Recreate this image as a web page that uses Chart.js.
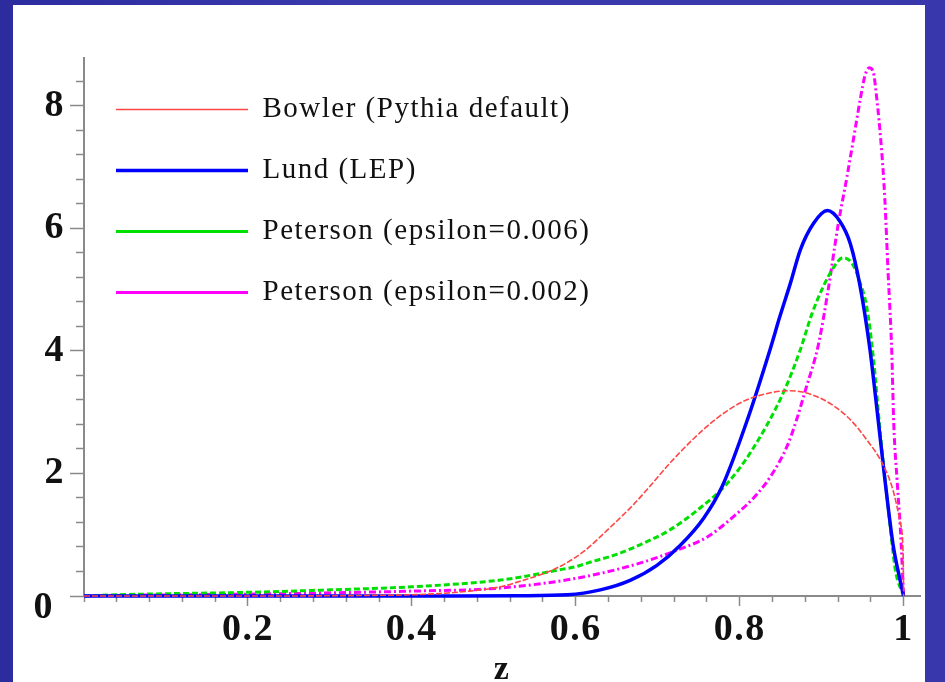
<!DOCTYPE html>
<html>
<head>
<meta charset="utf-8">
<script src="https://cdn.jsdelivr.net/npm/chart.js@4.4.1/dist/chart.umd.min.js"></script>
<style>
    html, body { margin: 0; padding: 0; }
    body {
        width: 945px; height: 682px; position: relative; overflow: hidden;
        background: linear-gradient(90deg, #2c2c9e 0%, #3a3aae 40%, #3838ac 100%);
    }
    #panel { position: absolute; left: 13px; top: 5px; width: 912px; height: 677px; background: #fff; }
    #grafico { display: block; }
</style>
</head>
<body>
<div id="panel"><canvas id="grafico" width="912" height="677"></canvas></div>
<script>
// valores (z, densidad)
const nombresSeries = [
    "Bowler (Pythia default)",
    "Lund (LEP)",
    "Peterson (epsilon=0.006)",
    "Peterson (epsilon=0.002)"
];

const zBowler = [0, 0.2, 0.35, 0.42, 0.47, 0.508, 0.532, 0.555, 0.579, 0.609, 0.642, 0.671, 0.691, 0.715, 0.744, 0.772, 0.805, 0.835, 0.862, 0.898, 0.931, 0.955, 0.975, 0.987, 0.996, 0.9995, 1.0];
const yBowler = [0, 0, 0.01, 0.03, 0.08, 0.15, 0.24, 0.34, 0.47, 0.72, 1.12, 1.5, 1.8, 2.17, 2.57, 2.9, 3.18, 3.31, 3.35, 3.23, 2.93, 2.55, 2.14, 1.73, 1.19, 0.64, 0];

const zLund = [0, 0.45, 0.53, 0.59, 0.63, 0.667, 0.699, 0.727, 0.756, 0.779, 0.81, 0.837, 0.849, 0.862, 0.874, 0.89, 0.907, 0.922, 0.935, 0.947, 0.959, 0.965, 0.977, 0.987, 0.995, 1.0];
const yLund = [0, 0, 0.005, 0.02, 0.1, 0.26, 0.5, 0.82, 1.27, 1.8, 2.9, 4.02, 4.56, 5.11, 5.65, 6.08, 6.29, 6.12, 5.75, 5.05, 4.02, 3.34, 1.92, 0.85, 0.3, 0];

const zPeterson006 = [0, 0.04, 0.2, 0.3, 0.4, 0.508, 0.55, 0.577, 0.6, 0.622, 0.65, 0.679, 0.715, 0.752, 0.785, 0.815, 0.853, 0.874, 0.888, 0.902, 0.914, 0.926, 0.937, 0.947, 0.955, 0.963, 0.972, 0.983, 0.99, 1.0];
const yPeterson006 = [0, 0.02, 0.06, 0.1, 0.15, 0.26, 0.35, 0.42, 0.48, 0.57, 0.68, 0.84, 1.08, 1.44, 1.84, 2.38, 3.31, 4.02, 4.6, 5.05, 5.35, 5.52, 5.43, 5.11, 4.72, 3.9, 2.6, 1.21, 0.42, 0];

const zPeterson002 = [0, 0.04, 0.2, 0.4, 0.508, 0.609, 0.679, 0.724, 0.76, 0.792, 0.821, 0.84, 0.858, 0.87, 0.88, 0.896, 0.908, 0.92, 0.931, 0.94, 0.947, 0.953, 0.958, 0.963, 0.967, 0.973, 0.977, 0.981, 0.9855, 0.988, 0.992, 0.996, 1.0];
const yPeterson002 = [0, 0.01, 0.03, 0.08, 0.13, 0.31, 0.54, 0.75, 0.96, 1.29, 1.66, 2.0, 2.45, 2.9, 3.35, 4.1, 5.0, 6.05, 6.85, 7.55, 8.1, 8.5, 8.62, 8.55, 8.15, 7.3, 6.5, 5.3, 4.0, 2.8, 1.9, 1.1, 0];

// marcas con etiqueta ("0" va en la esquina, un poco abajo y a la izquierda)
const marcasX = [0.2, 0.4, 0.6, 0.8, 1.0];
const textosX = ["0.2", "0.4", "0.6", "0.8", "1"];
const marcasY = [0, 2, 4, 6, 8];
const textosY = [["", "0 "], "2", "4", "6", "8"];

const fuenteSerif = "'Liberation Serif', 'Times New Roman', serif";
const grisEje = '#8a8a8a';

function armarPuntos(zs, ys) {
    return zs.map((z, i) => ({ x: z, y: ys[i] }));
}

function indiceMarca(valor, marcas) {
    return marcas.findIndex(m => Math.abs(m - valor) < 1e-6);
}

const estilos = [
    { color: 'rgb(255,70,70)', ancho: 1.6, guiones: [6, 2] },
    { color: '#0000ff', ancho: 3.5, guiones: [] },
    { color: '#00e000', ancho: 3, guiones: [6, 3] },
    { color: '#ff00ff', ancho: 3, guiones: [7, 3, 2, 3] }
];
const datosSeries = [
    armarPuntos(zBowler, yBowler),
    armarPuntos(zLund, yLund),
    armarPuntos(zPeterson006, yPeterson006),
    armarPuntos(zPeterson002, yPeterson002)
];

//el texto del original esta estirado a lo ancho
const espaciadoLetras = {
    id: 'espaciadoLetras',
    beforeDraw(chart) { chart.ctx.letterSpacing = '1.5px'; }
};

const grafico = new Chart(document.getElementById('grafico'), {
    type: 'line',
    data: {
        datasets: nombresSeries.map((nombre, i) => ({
            label: nombre,
            data: datosSeries[i],
            borderColor: estilos[i].color,
            backgroundColor: estilos[i].color,
            borderWidth: estilos[i].ancho,
            borderDash: estilos[i].guiones,
            pointRadius: 0,
            fill: false,
            cubicInterpolationMode: 'monotone',
            clip: false
        }))
    },
    plugins: [espaciadoLetras],
    options: {
        responsive: false,
        animation: false,
        events: [],
        layout: { padding: { top: 53, right: 5, left: 0, bottom: 0 } },
        plugins: {
            tooltip: { enabled: false },
            legend: {
                position: 'chartArea',
                align: 'start',
                title: {
                    display: true,
                    text: '',
                    padding: { top: 0, bottom: 40 },
                    font: { size: 18, lineHeight: 1 }
                },
                labels: {
                    usePointStyle: true,
                    pointStyle: 'line',
                    pointStyleWidth: 132,
                    padding: 32,
                    color: '#111',
                    font: { family: fuenteSerif, size: 29 }
                }
            }
        },
        scales: {
            x: {
                type: 'linear',
                min: 0,
                max: 1.02,
                border: { color: grisEje, width: 2 },
                grid: {
                    drawOnChartArea: false,
                    tickLength: 10,
                    tickWidth: 1.5,
                    tickColor: grisEje,
                    //las marcas menores son mas cortas
                    tickBorderDash: ctx => (ctx.tick && indiceMarca(ctx.tick.value, marcasX) >= 0) ? [] : [5, 30]
                },
                ticks: {
                    stepSize: 0.04,
                    includeBounds: false,
                    autoSkip: false,
                    maxRotation: 0,
                    padding: 5,
                    color: '#111',
                    font: { family: fuenteSerif, size: 38, weight: 'bold', lineHeight: 1 },
                    callback: valor => {
                        let i = indiceMarca(valor, marcasX);
                        return i >= 0 ? textosX[i] : '';
                    }
                },
                title: {
                    display: true,
                    text: 'z',
                    color: '#111',
                    padding: { top: 0, bottom: -5 },
                    font: { family: fuenteSerif, size: 34, weight: 'bold', lineHeight: 1 }
                },
                afterFit: escala => { escala.height = 86; }
            },
            y: {
                min: 0,
                max: 8.78,
                border: { color: grisEje, width: 2 },
                grid: {
                    drawOnChartArea: false,
                    tickLength: 14,
                    tickWidth: 1.5,
                    tickColor: grisEje,
                    tickBorderDash: ctx => (ctx.tick && indiceMarca(ctx.tick.value, marcasY) >= 0) ? [] : [0, 6, 8, 30]
                },
                ticks: {
                    stepSize: 0.4,
                    includeBounds: false,
                    autoSkip: false,
                    padding: 5,
                    color: '#111',
                    font: ctx => ({
                        family: fuenteSerif, size: 38, weight: 'bold',
                        lineHeight: (ctx.tick && ctx.tick.value === 0) ? 0.65 : 1
                    }),
                    callback: valor => {
                        let i = indiceMarca(valor, marcasY);
                        return i >= 0 ? textosY[i] : '';
                    }
                },
                afterFit: escala => { escala.width = 71; }
            }
        }
    }
});
</script>
</body>
</html>
